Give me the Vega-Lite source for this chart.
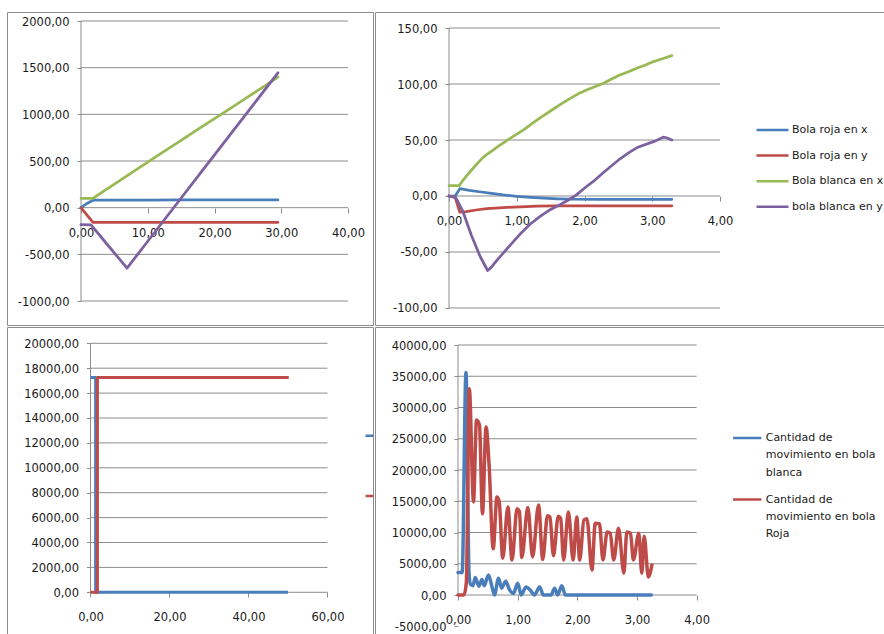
{
  "$schema": "https://vega.github.io/schema/vega-lite/v6.json",
  "background": "white",
  "padding": {"left": 6, "top": 11, "right": 0, "bottom": 0},
  "bounds": "flush",
  "spacing": 2,
  "columns": 2,
  "resolve": {"scale": {"color": "independent"}, "legend": {"color": "independent"}},
  "config": {
    "view": {"stroke": "#8c8c8c", "strokeWidth": 1},
    "font": "DejaVu Sans",
    "axis": {
      "domain": false,
      "grid": false,
      "tickColor": "#8c8c8c",
      "tickWidth": 1,
      "labelFont": "DejaVu Sans",
      "labelFontSize": 11.5,
      "labelColor": "#1a1a1a",
      "labelFlush": false,
      "labelOverlap": false,
      "labelBound": false
    },
    "axisX": {"tickSize": 5, "labelPadding": 14},
    "axisY": {"tickSize": 4, "labelPadding": 8, "labelOffset": 1},
    "legend": {
      "orient": "none",
      "padding": 0,
      "symbolType": "stroke",
      "labelFont": "DejaVu Sans",
      "labelFontSize": 11,
      "labelColor": "#1a1a1a",
      "labelLimit": 300
    }
  },
  "datasets": {
    "rejilla1": [
      {"t": 0, "t2": 40, "v": -1000, "v2": -1000},
      {"t": 0, "t2": 40, "v": -500, "v2": -500},
      {"t": 0, "t2": 40, "v": 0, "v2": 0},
      {"t": 0, "t2": 40, "v": 500, "v2": 500},
      {"t": 0, "t2": 40, "v": 1000, "v2": 1000},
      {"t": 0, "t2": 40, "v": 1500, "v2": 1500},
      {"t": 0, "t2": 40, "v": 2000, "v2": 2000},
      {"t": 0, "t2": 0, "v": -1000, "v2": 2000}
    ],
    "rejilla2": [
      {"t": 0, "t2": 4, "v": -100, "v2": -100},
      {"t": 0, "t2": 4, "v": -50, "v2": -50},
      {"t": 0, "t2": 4, "v": 0, "v2": 0},
      {"t": 0, "t2": 4, "v": 50, "v2": 50},
      {"t": 0, "t2": 4, "v": 100, "v2": 100},
      {"t": 0, "t2": 4, "v": 150, "v2": 150},
      {"t": 0, "t2": 0, "v": -100, "v2": 150}
    ],
    "rejilla3": [
      {"t": 0, "t2": 60, "v": 0, "v2": 0},
      {"t": 0, "t2": 60, "v": 2000, "v2": 2000},
      {"t": 0, "t2": 60, "v": 4000, "v2": 4000},
      {"t": 0, "t2": 60, "v": 6000, "v2": 6000},
      {"t": 0, "t2": 60, "v": 8000, "v2": 8000},
      {"t": 0, "t2": 60, "v": 10000, "v2": 10000},
      {"t": 0, "t2": 60, "v": 12000, "v2": 12000},
      {"t": 0, "t2": 60, "v": 14000, "v2": 14000},
      {"t": 0, "t2": 60, "v": 16000, "v2": 16000},
      {"t": 0, "t2": 60, "v": 18000, "v2": 18000},
      {"t": 0, "t2": 60, "v": 20000, "v2": 20000},
      {"t": 0, "t2": 0, "v": 0, "v2": 20000}
    ],
    "rejilla4": [
      {"t": 0, "t2": 4, "v": 0, "v2": 0},
      {"t": 0, "t2": 4, "v": 5000, "v2": 5000},
      {"t": 0, "t2": 4, "v": 10000, "v2": 10000},
      {"t": 0, "t2": 4, "v": 15000, "v2": 15000},
      {"t": 0, "t2": 4, "v": 20000, "v2": 20000},
      {"t": 0, "t2": 4, "v": 25000, "v2": 25000},
      {"t": 0, "t2": 4, "v": 30000, "v2": 30000},
      {"t": 0, "t2": 4, "v": 35000, "v2": 35000},
      {"t": 0, "t2": 4, "v": 40000, "v2": 40000},
      {"t": 0, "t2": 0, "v": 0, "v2": 40000}
    ],
    "posicion_larga": [
      {"s": "Bola roja en x", "t": 0, "v": 0},
      {"s": "Bola roja en x", "t": 0.9, "v": 45},
      {"s": "Bola roja en x", "t": 1.8, "v": 80},
      {"s": "Bola roja en x", "t": 5, "v": 82},
      {"s": "Bola roja en x", "t": 10, "v": 82},
      {"s": "Bola roja en x", "t": 15, "v": 83},
      {"s": "Bola roja en x", "t": 20, "v": 83},
      {"s": "Bola roja en x", "t": 25, "v": 83},
      {"s": "Bola roja en x", "t": 29.5, "v": 83},
      {"s": "Bola roja en y", "t": 0, "v": 0},
      {"s": "Bola roja en y", "t": 0.9, "v": -80},
      {"s": "Bola roja en y", "t": 1.8, "v": -157},
      {"s": "Bola roja en y", "t": 5, "v": -157},
      {"s": "Bola roja en y", "t": 10, "v": -157},
      {"s": "Bola roja en y", "t": 15, "v": -157},
      {"s": "Bola roja en y", "t": 20, "v": -157},
      {"s": "Bola roja en y", "t": 25, "v": -157},
      {"s": "Bola roja en y", "t": 29.5, "v": -157},
      {"s": "Bola blanca en x", "t": 0, "v": 100},
      {"s": "Bola blanca en x", "t": 1.8, "v": 100},
      {"s": "Bola blanca en x", "t": 2.5, "v": 134},
      {"s": "Bola blanca en x", "t": 5, "v": 252},
      {"s": "Bola blanca en x", "t": 7.5, "v": 370},
      {"s": "Bola blanca en x", "t": 10, "v": 488},
      {"s": "Bola blanca en x", "t": 12.5, "v": 605},
      {"s": "Bola blanca en x", "t": 15, "v": 722},
      {"s": "Bola blanca en x", "t": 17.5, "v": 838},
      {"s": "Bola blanca en x", "t": 20, "v": 954},
      {"s": "Bola blanca en x", "t": 22.5, "v": 1070},
      {"s": "Bola blanca en x", "t": 25, "v": 1187},
      {"s": "Bola blanca en x", "t": 27.5, "v": 1303},
      {"s": "Bola blanca en x", "t": 29.5, "v": 1400},
      {"s": "bola blanca en y", "t": 0, "v": -182},
      {"s": "bola blanca en y", "t": 1.5, "v": -185},
      {"s": "bola blanca en y", "t": 4, "v": -400},
      {"s": "bola blanca en y", "t": 6.9, "v": -648},
      {"s": "bola blanca en y", "t": 10, "v": -360},
      {"s": "bola blanca en y", "t": 14, "v": 10},
      {"s": "bola blanca en y", "t": 18, "v": 380},
      {"s": "bola blanca en y", "t": 22, "v": 750},
      {"s": "bola blanca en y", "t": 26, "v": 1120},
      {"s": "bola blanca en y", "t": 29.5, "v": 1445}
    ],
    "posicion_corta": [
      {"s": "Bola roja en x", "t": 0, "v": 0},
      {"s": "Bola roja en x", "t": 0.09, "v": 0},
      {"s": "Bola roja en x", "t": 0.16, "v": 6.5},
      {"s": "Bola roja en x", "t": 0.3, "v": 5},
      {"s": "Bola roja en x", "t": 0.45, "v": 3.8},
      {"s": "Bola roja en x", "t": 0.6, "v": 2.6},
      {"s": "Bola roja en x", "t": 0.8, "v": 1},
      {"s": "Bola roja en x", "t": 1.0, "v": -0.3},
      {"s": "Bola roja en x", "t": 1.2, "v": -1.2},
      {"s": "Bola roja en x", "t": 1.4, "v": -1.9},
      {"s": "Bola roja en x", "t": 1.6, "v": -2.5},
      {"s": "Bola roja en x", "t": 1.8, "v": -2.9},
      {"s": "Bola roja en x", "t": 2.2, "v": -3},
      {"s": "Bola roja en x", "t": 2.8, "v": -3},
      {"s": "Bola roja en x", "t": 3.29, "v": -3},
      {"s": "Bola roja en y", "t": 0, "v": 0},
      {"s": "Bola roja en y", "t": 0.09, "v": -1},
      {"s": "Bola roja en y", "t": 0.16, "v": -14.5},
      {"s": "Bola roja en y", "t": 0.25, "v": -14},
      {"s": "Bola roja en y", "t": 0.4, "v": -12.5},
      {"s": "Bola roja en y", "t": 0.56, "v": -11.3},
      {"s": "Bola roja en y", "t": 0.8, "v": -10.3},
      {"s": "Bola roja en y", "t": 1.05, "v": -9.6},
      {"s": "Bola roja en y", "t": 1.3, "v": -9.1},
      {"s": "Bola roja en y", "t": 1.54, "v": -8.8},
      {"s": "Bola roja en y", "t": 2.0, "v": -8.8},
      {"s": "Bola roja en y", "t": 2.5, "v": -8.8},
      {"s": "Bola roja en y", "t": 3.29, "v": -8.8},
      {"s": "Bola blanca en x", "t": 0, "v": 9.2},
      {"s": "Bola blanca en x", "t": 0.15, "v": 9.2},
      {"s": "Bola blanca en x", "t": 0.2, "v": 13.5},
      {"s": "Bola blanca en x", "t": 0.26, "v": 18},
      {"s": "Bola blanca en x", "t": 0.33, "v": 23},
      {"s": "Bola blanca en x", "t": 0.41, "v": 28.5},
      {"s": "Bola blanca en x", "t": 0.48, "v": 33},
      {"s": "Bola blanca en x", "t": 0.556, "v": 37},
      {"s": "Bola blanca en x", "t": 0.65, "v": 41},
      {"s": "Bola blanca en x", "t": 0.73, "v": 44.5},
      {"s": "Bola blanca en x", "t": 0.82, "v": 48.2},
      {"s": "Bola blanca en x", "t": 0.9, "v": 51.5},
      {"s": "Bola blanca en x", "t": 1.0, "v": 55.3},
      {"s": "Bola blanca en x", "t": 1.1, "v": 59},
      {"s": "Bola blanca en x", "t": 1.2, "v": 63.5},
      {"s": "Bola blanca en x", "t": 1.29, "v": 67.5},
      {"s": "Bola blanca en x", "t": 1.4, "v": 72},
      {"s": "Bola blanca en x", "t": 1.52, "v": 76.8},
      {"s": "Bola blanca en x", "t": 1.65, "v": 82},
      {"s": "Bola blanca en x", "t": 1.79, "v": 87.2},
      {"s": "Bola blanca en x", "t": 1.9, "v": 91},
      {"s": "Bola blanca en x", "t": 2.03, "v": 94.6},
      {"s": "Bola blanca en x", "t": 2.15, "v": 97.5},
      {"s": "Bola blanca en x", "t": 2.28, "v": 100.6},
      {"s": "Bola blanca en x", "t": 2.4, "v": 104.5},
      {"s": "Bola blanca en x", "t": 2.52, "v": 108},
      {"s": "Bola blanca en x", "t": 2.65, "v": 111},
      {"s": "Bola blanca en x", "t": 2.77, "v": 114},
      {"s": "Bola blanca en x", "t": 2.9, "v": 117},
      {"s": "Bola blanca en x", "t": 3.02, "v": 120},
      {"s": "Bola blanca en x", "t": 3.15, "v": 122.5},
      {"s": "Bola blanca en x", "t": 3.29, "v": 125.3},
      {"s": "bola blanca en y", "t": 0, "v": 0},
      {"s": "bola blanca en y", "t": 0.1, "v": -1.5},
      {"s": "bola blanca en y", "t": 0.2, "v": -13},
      {"s": "bola blanca en y", "t": 0.33, "v": -35},
      {"s": "bola blanca en y", "t": 0.46, "v": -54},
      {"s": "bola blanca en y", "t": 0.57, "v": -66.5},
      {"s": "bola blanca en y", "t": 0.62, "v": -64},
      {"s": "bola blanca en y", "t": 0.7, "v": -58},
      {"s": "bola blanca en y", "t": 0.8, "v": -51},
      {"s": "bola blanca en y", "t": 0.93, "v": -42},
      {"s": "bola blanca en y", "t": 1.05, "v": -34},
      {"s": "bola blanca en y", "t": 1.2, "v": -25},
      {"s": "bola blanca en y", "t": 1.35, "v": -18},
      {"s": "bola blanca en y", "t": 1.5, "v": -12},
      {"s": "bola blanca en y", "t": 1.6, "v": -9},
      {"s": "bola blanca en y", "t": 1.75, "v": -4},
      {"s": "bola blanca en y", "t": 1.88, "v": 1},
      {"s": "bola blanca en y", "t": 2.03, "v": 8.5},
      {"s": "bola blanca en y", "t": 2.15, "v": 14},
      {"s": "bola blanca en y", "t": 2.28, "v": 21},
      {"s": "bola blanca en y", "t": 2.4, "v": 27},
      {"s": "bola blanca en y", "t": 2.52, "v": 33},
      {"s": "bola blanca en y", "t": 2.65, "v": 38.5},
      {"s": "bola blanca en y", "t": 2.77, "v": 43},
      {"s": "bola blanca en y", "t": 2.9, "v": 46},
      {"s": "bola blanca en y", "t": 3.04, "v": 49},
      {"s": "bola blanca en y", "t": 3.16, "v": 52.5},
      {"s": "bola blanca en y", "t": 3.21, "v": 52},
      {"s": "bola blanca en y", "t": 3.29, "v": 50}
    ],
    "cantidad_larga": [
      {"s": "Cantidad de movimiento en bola blanca", "i": 0, "t": 0, "v": 17250},
      {"s": "Cantidad de movimiento en bola blanca", "i": 1, "t": 1.3, "v": 17250},
      {"s": "Cantidad de movimiento en bola blanca", "i": 2, "t": 1.3, "v": 0},
      {"s": "Cantidad de movimiento en bola blanca", "i": 3, "t": 50, "v": 0},
      {"s": "Cantidad de movimiento en bola Roja", "i": 0, "t": 0, "v": 0},
      {"s": "Cantidad de movimiento en bola Roja", "i": 1, "t": 1.75, "v": 0},
      {"s": "Cantidad de movimiento en bola Roja", "i": 2, "t": 1.75, "v": 17250},
      {"s": "Cantidad de movimiento en bola Roja", "i": 3, "t": 50.2, "v": 17250}
    ],
    "cantidad_corta": [
      {"s": "Cantidad de movimiento en bola blanca", "t": 0.0, "v": 3600},
      {"s": "Cantidad de movimiento en bola blanca", "t": 0.07, "v": 3600},
      {"s": "Cantidad de movimiento en bola blanca", "t": 0.134, "v": 35600},
      {"s": "Cantidad de movimiento en bola blanca", "t": 0.185, "v": 3500},
      {"s": "Cantidad de movimiento en bola blanca", "t": 0.21, "v": 1700},
      {"s": "Cantidad de movimiento en bola blanca", "t": 0.25, "v": 1500},
      {"s": "Cantidad de movimiento en bola blanca", "t": 0.29, "v": 2800},
      {"s": "Cantidad de movimiento en bola blanca", "t": 0.35, "v": 1400},
      {"s": "Cantidad de movimiento en bola blanca", "t": 0.4, "v": 2500},
      {"s": "Cantidad de movimiento en bola blanca", "t": 0.44, "v": 1500},
      {"s": "Cantidad de movimiento en bola blanca", "t": 0.51, "v": 3200},
      {"s": "Cantidad de movimiento en bola blanca", "t": 0.57, "v": 1300},
      {"s": "Cantidad de movimiento en bola blanca", "t": 0.61, "v": 0},
      {"s": "Cantidad de movimiento en bola blanca", "t": 0.68, "v": 2700},
      {"s": "Cantidad de movimiento en bola blanca", "t": 0.73, "v": 1100},
      {"s": "Cantidad de movimiento en bola blanca", "t": 0.8, "v": 2200},
      {"s": "Cantidad de movimiento en bola blanca", "t": 0.86, "v": 900},
      {"s": "Cantidad de movimiento en bola blanca", "t": 0.93, "v": 250},
      {"s": "Cantidad de movimiento en bola blanca", "t": 1.0, "v": 1900},
      {"s": "Cantidad de movimiento en bola blanca", "t": 1.06, "v": 0},
      {"s": "Cantidad de movimiento en bola blanca", "t": 1.14, "v": 1300},
      {"s": "Cantidad de movimiento en bola blanca", "t": 1.21, "v": 800},
      {"s": "Cantidad de movimiento en bola blanca", "t": 1.28, "v": 0},
      {"s": "Cantidad de movimiento en bola blanca", "t": 1.37, "v": 1300},
      {"s": "Cantidad de movimiento en bola blanca", "t": 1.43, "v": 0},
      {"s": "Cantidad de movimiento en bola blanca", "t": 1.56, "v": 0},
      {"s": "Cantidad de movimiento en bola blanca", "t": 1.62, "v": 1100},
      {"s": "Cantidad de movimiento en bola blanca", "t": 1.67, "v": 0},
      {"s": "Cantidad de movimiento en bola blanca", "t": 1.74, "v": 1500},
      {"s": "Cantidad de movimiento en bola blanca", "t": 1.8, "v": 0},
      {"s": "Cantidad de movimiento en bola blanca", "t": 2.5, "v": 0},
      {"s": "Cantidad de movimiento en bola blanca", "t": 3.24, "v": 0},
      {"s": "Cantidad de movimiento en bola Roja", "t": 0.0, "v": 0},
      {"s": "Cantidad de movimiento en bola Roja", "t": 0.1, "v": 0},
      {"s": "Cantidad de movimiento en bola Roja", "t": 0.14, "v": 2000},
      {"s": "Cantidad de movimiento en bola Roja", "t": 0.19, "v": 33000},
      {"s": "Cantidad de movimiento en bola Roja", "t": 0.26, "v": 14900},
      {"s": "Cantidad de movimiento en bola Roja", "t": 0.31, "v": 28000},
      {"s": "Cantidad de movimiento en bola Roja", "t": 0.36, "v": 27200},
      {"s": "Cantidad de movimiento en bola Roja", "t": 0.41, "v": 13000},
      {"s": "Cantidad de movimiento en bola Roja", "t": 0.47, "v": 26900},
      {"s": "Cantidad de movimiento en bola Roja", "t": 0.52, "v": 21000},
      {"s": "Cantidad de movimiento en bola Roja", "t": 0.59, "v": 7400},
      {"s": "Cantidad de movimiento en bola Roja", "t": 0.653, "v": 15700},
      {"s": "Cantidad de movimiento en bola Roja", "t": 0.69, "v": 15000},
      {"s": "Cantidad de movimiento en bola Roja", "t": 0.75, "v": 5900},
      {"s": "Cantidad de movimiento en bola Roja", "t": 0.837, "v": 14100},
      {"s": "Cantidad de movimiento en bola Roja", "t": 0.905, "v": 5600},
      {"s": "Cantidad de movimiento en bola Roja", "t": 0.99, "v": 13800},
      {"s": "Cantidad de movimiento en bola Roja", "t": 1.03, "v": 13300},
      {"s": "Cantidad de movimiento en bola Roja", "t": 1.07, "v": 6000},
      {"s": "Cantidad de movimiento en bola Roja", "t": 1.17, "v": 14000},
      {"s": "Cantidad de movimiento en bola Roja", "t": 1.25, "v": 6100},
      {"s": "Cantidad de movimiento en bola Roja", "t": 1.35, "v": 14400},
      {"s": "Cantidad de movimiento en bola Roja", "t": 1.42, "v": 5700},
      {"s": "Cantidad de movimiento en bola Roja", "t": 1.5, "v": 12700},
      {"s": "Cantidad de movimiento en bola Roja", "t": 1.54, "v": 12500},
      {"s": "Cantidad de movimiento en bola Roja", "t": 1.6, "v": 6300},
      {"s": "Cantidad de movimiento en bola Roja", "t": 1.68, "v": 12600},
      {"s": "Cantidad de movimiento en bola Roja", "t": 1.72, "v": 12300},
      {"s": "Cantidad de movimiento en bola Roja", "t": 1.77, "v": 5600},
      {"s": "Cantidad de movimiento en bola Roja", "t": 1.85, "v": 13300},
      {"s": "Cantidad de movimiento en bola Roja", "t": 1.93, "v": 5600},
      {"s": "Cantidad de movimiento en bola Roja", "t": 1.99, "v": 12500},
      {"s": "Cantidad de movimiento en bola Roja", "t": 2.04, "v": 5600},
      {"s": "Cantidad de movimiento en bola Roja", "t": 2.11, "v": 12000},
      {"s": "Cantidad de movimiento en bola Roja", "t": 2.16, "v": 12200},
      {"s": "Cantidad de movimiento en bola Roja", "t": 2.245, "v": 4000},
      {"s": "Cantidad de movimiento en bola Roja", "t": 2.3, "v": 11500},
      {"s": "Cantidad de movimiento en bola Roja", "t": 2.37, "v": 11400},
      {"s": "Cantidad de movimiento en bola Roja", "t": 2.43, "v": 5600},
      {"s": "Cantidad de movimiento en bola Roja", "t": 2.5, "v": 10100},
      {"s": "Cantidad de movimiento en bola Roja", "t": 2.55, "v": 9900},
      {"s": "Cantidad de movimiento en bola Roja", "t": 2.61, "v": 5600},
      {"s": "Cantidad de movimiento en bola Roja", "t": 2.69, "v": 10700},
      {"s": "Cantidad de movimiento en bola Roja", "t": 2.78, "v": 3500},
      {"s": "Cantidad de movimiento en bola Roja", "t": 2.83, "v": 10100},
      {"s": "Cantidad de movimiento en bola Roja", "t": 2.89, "v": 9900},
      {"s": "Cantidad de movimiento en bola Roja", "t": 2.94, "v": 5600},
      {"s": "Cantidad de movimiento en bola Roja", "t": 3.03, "v": 9900},
      {"s": "Cantidad de movimiento en bola Roja", "t": 3.08, "v": 3500},
      {"s": "Cantidad de movimiento en bola Roja", "t": 3.12, "v": 9400},
      {"s": "Cantidad de movimiento en bola Roja", "t": 3.19, "v": 2900},
      {"s": "Cantidad de movimiento en bola Roja", "t": 3.25, "v": 4800}
    ]
  },
  "concat": [
    {
      "width": 366,
      "height": 313,
      "encoding": {
        "x": {"field": "t", "type": "quantitative",
          "scale": {"domain": [-11.086, 43.745], "nice": false, "zero": false},
          "axis": {"title": null, "values": [0, 10, 20, 30, 40], "offset": -117,
            "labelExpr": "(datum.value < 0 ? '-' : '') + replace(format(abs(datum.value), '.2f'), '.', ',')"}},
        "y": {"field": "v", "type": "quantitative",
          "scale": {"domain": [-1257.14, 2096.43], "nice": false, "zero": false},
          "axis": {"title": null, "values": [-1000, -500, 0, 500, 1000, 1500, 2000], "offset": -74,
            "labelExpr": "(datum.value < 0 ? '-' : '') + replace(format(abs(datum.value), '.2f'), '.', ',')"}}
      },
      "layer": [
        {
          "data": {"name": "rejilla1"},
          "mark": {"type": "rule", "color": "#8c8c8c", "strokeWidth": 1},
          "encoding": {"x2": {"field": "t2"}, "y2": {"field": "v2"}}
        },
        {
          "data": {"name": "posicion_larga"},
          "mark": {"type": "line", "strokeWidth": 2.75, "strokeJoin": "round", "strokeCap": "round"},
          "encoding": {
            "color": {"field": "s", "type": "nominal", "legend": null,
              "scale": {"domain": ["Bola roja en x", "Bola roja en y", "Bola blanca en x", "bola blanca en y"],
                "range": ["#4a7ebb", "#be4b48", "#98b954", "#7d60a0"]}}
          }
        }
      ]
    },
    {
      "width": 520,
      "height": 313,
      "encoding": {
        "x": {"field": "t", "type": "quantitative",
          "scale": {"domain": [-1.0923, 6.583], "nice": false, "zero": false},
          "axis": {"title": null, "values": [0, 1, 2, 3, 4], "offset": -129,
            "labelExpr": "(datum.value < 0 ? '-' : '') + replace(format(abs(datum.value), '.2f'), '.', ',')"}},
        "y": {"field": "v", "type": "quantitative",
          "scale": {"domain": [-115.179, 164.286], "nice": false, "zero": false},
          "axis": {"title": null, "values": [-100, -50, 0, 50, 100, 150], "offset": -74,
            "labelExpr": "(datum.value < 0 ? '-' : '') + replace(format(abs(datum.value), '.2f'), '.', ',')"}}
      },
      "layer": [
        {
          "data": {"name": "rejilla2"},
          "mark": {"type": "rule", "color": "#8c8c8c", "strokeWidth": 1},
          "encoding": {"x2": {"field": "t2"}, "y2": {"field": "v2"}}
        },
        {
          "data": {"name": "posicion_corta"},
          "mark": {"type": "line", "strokeWidth": 2.75, "strokeJoin": "round", "strokeCap": "round"},
          "encoding": {
            "color": {"field": "s", "type": "nominal",
              "scale": {"domain": ["Bola roja en x", "Bola roja en y", "Bola blanca en x", "bola blanca en y"],
                "range": ["#4a7ebb", "#be4b48", "#98b954", "#7d60a0"]},
              "legend": {"title": null, "orient": "none", "legendX": 380, "legendY": 110, "symbolSize": 1024, "symbolStrokeWidth": 2.5,
                "clipHeight": 16, "rowPadding": 9.6, "labelOffset": 2}}
          }
        }
      ]
    },
    {
      "width": 366,
      "height": 320,
      "encoding": {
        "x": {"field": "t", "type": "quantitative",
          "scale": {"domain": [-21.139, 71.52], "nice": false, "zero": false},
          "axis": {"title": null, "values": [0, 20, 40, 60], "offset": -55,
            "labelExpr": "(datum.value < 0 ? '-' : '') + replace(format(abs(datum.value), '.2f'), '.', ',')"}},
        "y": {"field": "v", "type": "quantitative",
          "scale": {"domain": [-4394, 21309], "nice": false, "zero": false},
          "axis": {"title": null, "values": [0, 2000, 4000, 6000, 8000, 10000, 12000, 14000, 16000, 18000, 20000], "offset": -83.5,
            "labelExpr": "(datum.value < 0 ? '-' : '') + replace(format(abs(datum.value), '.2f'), '.', ',')"}}
      },
      "layer": [
        {
          "data": {"name": "rejilla3"},
          "mark": {"type": "rule", "color": "#8c8c8c", "strokeWidth": 1},
          "encoding": {"x2": {"field": "t2"}, "y2": {"field": "v2"}}
        },
        {
          "data": {"name": "cantidad_larga"},
          "mark": {"type": "line", "strokeWidth": 3, "strokeJoin": "round", "strokeCap": "butt"},
          "encoding": {
            "order": {"field": "i"},
            "color": {"field": "s", "type": "nominal",
              "scale": {"domain": ["Cantidad de movimiento en bola blanca", "Cantidad de movimiento en bola Roja"],
                "range": ["#4a7ebb", "#be4b48"]},
              "legend": {"title": null, "orient": "none", "legendX": 357, "legendY": 100.7, "symbolSize": 64, "symbolStrokeWidth": 2.5,
                "clipHeight": 16, "rowPadding": 44.3, "labelExpr": "''"}}
          }
        }
      ]
    },
    {
      "width": 520,
      "height": 320,
      "encoding": {
        "x": {"field": "t", "type": "quantitative",
          "scale": {"domain": [-1.391, 7.324], "nice": false, "zero": false},
          "axis": {"title": null, "values": [0, 1, 2, 3, 4], "offset": -52,
            "labelExpr": "(datum.value < 0 ? '-' : '') + replace(format(abs(datum.value), '.2f'), '.', ',')"}},
        "y": {"field": "v", "type": "quantitative",
          "scale": {"domain": [-8320, 42880], "nice": false, "zero": false},
          "axis": {"title": null, "values": [-5000, 0, 5000, 10000, 15000, 20000, 25000, 30000, 35000, 40000], "offset": -83,
            "labelExpr": "(datum.value < 0 ? '-' : '') + replace(format(abs(datum.value), '.2f'), '.', ',')"}}
      },
      "layer": [
        {
          "data": {"name": "rejilla4"},
          "mark": {"type": "rule", "color": "#8c8c8c", "strokeWidth": 1},
          "encoding": {"x2": {"field": "t2"}, "y2": {"field": "v2"}}
        },
        {
          "data": {"name": "cantidad_corta"},
          "mark": {"type": "line", "strokeWidth": 3.5, "strokeJoin": "round", "strokeCap": "round", "interpolate": "monotone"},
          "encoding": {
            "color": {"field": "s", "type": "nominal",
              "scale": {"domain": ["Cantidad de movimiento en bola blanca", "Cantidad de movimiento en bola Roja"],
                "range": ["#4a7ebb", "#be4b48"]},
              "legend": {"title": null, "orient": "none", "legendX": 356.7, "legendY": 103, "symbolSize": 800, "symbolStrokeWidth": 2.5,
                "clipHeight": 16, "rowPadding": 13.6, "labelOffset": 3,
                "labelExpr": "['Cantidad de', 'movimiento en bola', replace(datum.label, 'Cantidad de movimiento en bola ', '')]",
                "encode": {"labels": {"update": {"lineHeight": {"value": 17.3}}}}}}
          }
        }
      ]
    }
  ]
}
